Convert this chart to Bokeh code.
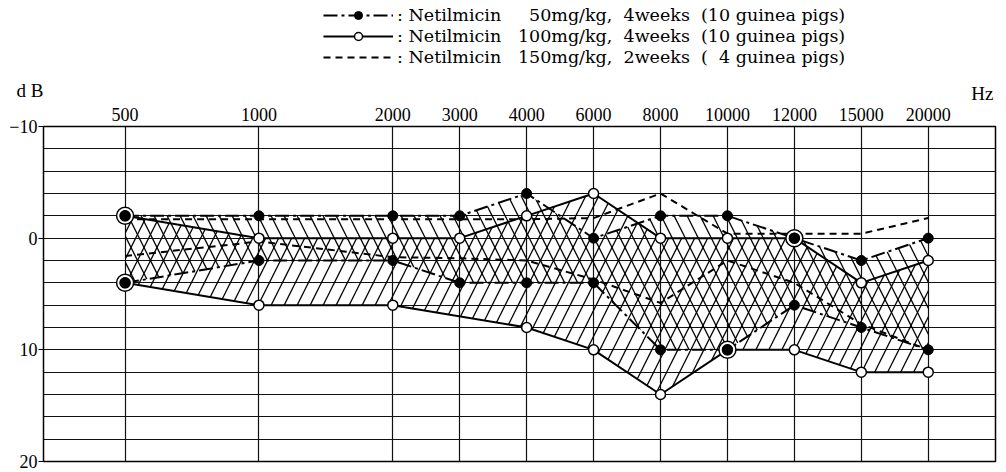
from bokeh.plotting import figure
from bokeh.layouts import column
from bokeh.models import Range1d, FixedTicker, Legend, LegendItem, Label
from bokeh.embed import file_html
from bokeh.resources import INLINE

# ---- data -------------------------------------------------------------
freq_labels = ["500", "1000", "2000", "3000", "4000", "6000",
               "8000", "10000", "12000", "15000", "20000"]
# position of each test frequency along the audiogram's horizontal scale
freq_pos = [0, 2, 4, 5, 6, 7, 8, 9, 10, 11, 12]

# hearing-threshold ranges (dB), upper and lower limits of each group
upper_50 = [-2, -2, -2, -2, -4, 0, -2, -2, 0, 2, 0]
lower_50 = [4, 2, 2, 4, 4, 4, 10, 10, 6, 8, 10]
upper_100 = [-2, 0, 0, 0, -2, -4, 0, 0, 0, 4, 2]
lower_100 = [4, 6, 6, None, 8, 10, 14, 10, 10, 12, 12]
upper_150 = [-1.7, -1.7, -1.7, -1.7, -1.7, -1.8, -4, -0.4, -0.4, -0.4, -1.8]
lower_150 = [1.6, 0.3, 1.7, 1.8, 2, 3.7, 5.8, 2, 4, 7.7, 10]

db_ticks = [-10, 0, 10, 20]
db_grid = list(range(-10, 21, 2))
db_tick_labels = {-10: "\u221210", 0: "0", 10: "10", 20: "20"}

legend_labels = [
    ": Netilmicin\u00a0\u00a0\u2007\u00a050mg/kg,\u00a0 4weeks\u00a0 (10 guinea pigs)",
    ": Netilmicin\u00a0\u00a0 100mg/kg,\u00a0 4weeks\u00a0 (10 guinea pigs)",
    ": Netilmicin\u00a0\u00a0 150mg/kg,\u00a0 2weeks\u00a0 (\u20074 guinea pigs)",
]


def pts(vals):
    return [(x, v) for x, v in zip(freq_pos, vals) if v is not None]


def xs_ys(vals):
    pp = pts(vals)
    return [a for a, _ in pp], [b for _, b in pp]


def region(up, lo):
    u = pts(up)
    l = pts(lo)[::-1]
    return [a for a, _ in u] + [a for a, _ in l], [b for _, b in u] + [b for _, b in l]


SERIF = "Liberation Serif"
W = 998

style_50 = dict(line_color="black", line_width=2, line_dash="14 4 3 4")
style_100 = dict(line_color="black", line_width=2)
style_150 = dict(line_color="black", line_width=2, line_dash="7 5")
open_marker = dict(marker="circle", size=10, fill_color="white",
                   line_color="black", line_width=1.5)
filled_marker = dict(marker="circle", size=10, fill_color="black",
                     line_color="black", line_width=1)

# ---- header: legend and unit labels -----------------------------------
HDR_H = 104
hdr = figure(width=W, height=HDR_H, x_range=Range1d(0, 1), y_range=Range1d(0, HDR_H),
             output_backend="svg", toolbar_location=None,
             x_axis_type=None, y_axis_location="left",
             min_border_left=43, min_border_right=3,
             min_border_top=0, min_border_bottom=0)
hdr.grid.visible = False
hdr.outline_line_color = None
hdr.background_fill_color = "white"
hdr.border_fill_color = "white"
hy = hdr.yaxis[0]
hy.ticker = FixedTicker(ticks=[7])
hy.major_label_overrides = {7: "d B"}
hy.axis_line_color = None
hy.major_tick_out = 0
hy.major_tick_in = 0
hy.minor_tick_out = 0
hy.minor_tick_in = 0
hy.major_label_standoff = 0
hy.major_label_text_font = SERIF
hy.major_label_text_font_size = "19px"
hy.major_label_text_color = "black"

# legend keys (kept off-screen; only their styles are shown in the legend)
k50 = hdr.line([-5, -4], [-5, -5], **style_50)
k50m = hdr.scatter([-5], [-5], **filled_marker)
k100 = hdr.line([-5, -4], [-5, -5], **style_100)
k100m = hdr.scatter([-5], [-5], **open_marker)
k150 = hdr.line([-5, -4], [-5, -5], **style_150)

legend = Legend(items=[
    LegendItem(label=legend_labels[0], renderers=[k50, k50m]),
    LegendItem(label=legend_labels[1], renderers=[k100, k100m]),
    LegendItem(label=legend_labels[2], renderers=[k150]),
], location=(280, 37))
legend.label_text_font = "DejaVu Serif"
legend.label_text_font_size = "17.5px"
legend.label_text_color = "black"
legend.glyph_width = 70
legend.glyph_height = 20
legend.label_height = 20
legend.spacing = 1
legend.padding = 0
legend.margin = 0
legend.label_standoff = 4
legend.border_line_alpha = 0
legend.background_fill_alpha = 0
hdr.add_layout(legend)

hdr.add_layout(Label(x=950, y=1, x_units="screen", y_units="screen", text="Hz",
                     text_font=SERIF, text_font_size="19px",
                     text_baseline="bottom", text_align="right", text_color="black"))

# ---- main audiogram ---------------------------------------------------
p = figure(width=W, height=367,
           x_range=Range1d(-1.219, 13.005), y_range=Range1d(20, -10),
           x_axis_location="above",
           output_backend="svg", toolbar_location=None,
           min_border_left=43, min_border_top=22,
           min_border_right=3, min_border_bottom=10)
p.background_fill_color = "white"
p.border_fill_color = "white"
p.outline_line_color = "black"
p.outline_line_width = 1.5

p.xgrid.ticker = FixedTicker(ticks=freq_pos)
p.ygrid.ticker = FixedTicker(ticks=db_grid)
for g in (p.xgrid, p.ygrid):
    g.grid_line_color = "#111111"
    g.grid_line_width = 1.2
    g.grid_line_alpha = 1.0

xa = p.xaxis[0]
xa.ticker = FixedTicker(ticks=freq_pos)
xa.major_label_overrides = {x: t for x, t in zip(freq_pos, freq_labels)}
xa.major_tick_out = 0
xa.major_tick_in = 0
xa.minor_tick_out = 0
xa.minor_tick_in = 0
xa.axis_line_color = None
xa.major_label_standoff = 6
xa.major_label_text_font = SERIF
xa.major_label_text_font_size = "18px"
xa.major_label_text_color = "black"

ya = p.yaxis[0]
ya.ticker = FixedTicker(ticks=db_ticks)
ya.major_label_overrides = db_tick_labels
ya.major_tick_out = 5
ya.major_tick_in = 0
ya.minor_tick_out = 0
ya.minor_tick_in = 0
ya.axis_line_color = "black"
ya.major_tick_line_color = "black"
ya.major_label_standoff = 1
ya.major_label_text_font = SERIF
ya.major_label_text_font_size = "18px"
ya.major_label_text_color = "black"

# hatched ranges
rx, ry = region(upper_50, lower_50)
p.patch(rx, ry, fill_alpha=0, line_alpha=0, hatch_pattern="\\",
        hatch_color="black", hatch_scale=26, hatch_weight=1.3)
rx, ry = region(upper_100, lower_100)
p.patch(rx, ry, fill_alpha=0, line_alpha=0, hatch_pattern="/",
        hatch_color="black", hatch_scale=26, hatch_weight=1.3)

# range lines
for vals in (upper_150, lower_150):
    x, y = xs_ys(vals)
    p.line(x, y, **style_150)
for vals in (upper_100, lower_100):
    x, y = xs_ys(vals)
    p.line(x, y, **style_100)
for vals in (upper_50, lower_50):
    x, y = xs_ys(vals)
    p.line(x, y, **style_50)

# rings where both groups share a value
ring_x, ring_y = [], []
for a, b in ((upper_50, upper_100), (lower_50, lower_100)):
    for xp, va, vb in zip(freq_pos, a, b):
        if va is not None and vb is not None and va == vb:
            ring_x.append(xp)
            ring_y.append(va)
p.scatter(ring_x, ring_y, marker="circle", size=17, fill_color="white",
          line_color="black", line_width=1.5)

ox = [a for a, _ in pts(upper_100)] + [a for a, _ in pts(lower_100)]
oy = [b for _, b in pts(upper_100)] + [b for _, b in pts(lower_100)]
p.scatter(ox, oy, **open_marker)
fx = [a for a, _ in pts(upper_50)] + [a for a, _ in pts(lower_50)]
fy = [b for _, b in pts(upper_50)] + [b for _, b in pts(lower_50)]
p.scatter(fx, fy, **filled_marker)

layout = column(hdr, p, spacing=0)
open("out.html", "w").write(file_html(layout, INLINE))
